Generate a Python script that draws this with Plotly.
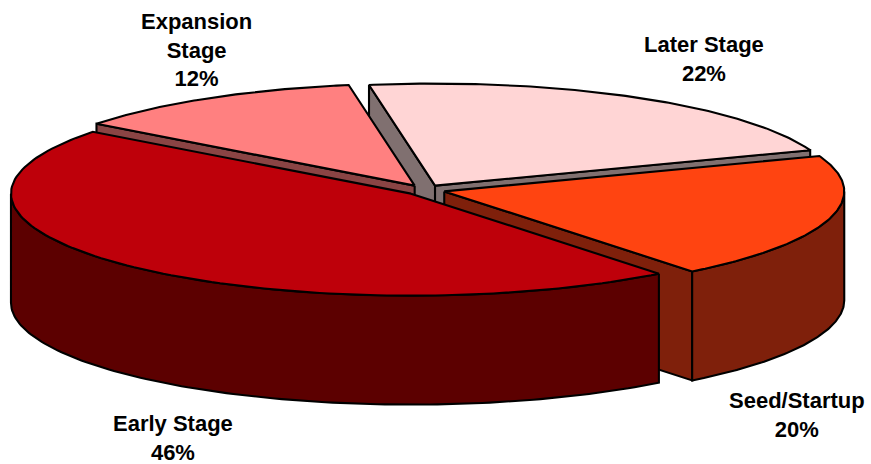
import numpy as np
import plotly.graph_objects as go

# ---- data ----
labels = ["Later Stage", "Seed/Startup", "Early Stage", "Expansion Stage"]
values = [22, 20, 46, 12]
top_colors = ["#FFD5D5", "#FF4411", "#BE000A", "#FF8080"]
side_colors = ["#807070", "#7F200B", "#5C0000", "#8A4444"]
label_text = ["Later Stage<br>22%", "Seed/Startup<br>20%", "Early Stage<br>46%", "Expansion<br>Stage<br>12%"]
label_pos = [(704, 59), (797, 415), (173, 438), (196, 50)]

# ---- geometry (style) ----
W, H = 871, 464
CX, CY = 425.0, 190.0
RX, RY = 400.0, 102.0
DEPTH = 109.0
EXPLODE = 0.05
START = 99.5  # degrees, slices go clockwise

total = float(sum(values))
spans = []
a = START
for v in values:
    a2 = a - v / total * 360.0
    spans.append((a, a2))
    a = a2

def centre(i):
    s, e = spans[i]
    m = np.radians((s + e) / 2)
    return CX + EXPLODE * RX * np.cos(m), CY - EXPLODE * RY * np.sin(m)

def pt(c, ang, dy=0.0):
    r = np.radians(ang)
    return c[0] + RX * np.cos(r), c[1] - RY * np.sin(r) + dy

def arc(c, a1, a2, dy=0.0, n=120):
    ts = np.linspace(a1, a2, n)
    xs, ys = zip(*[pt(c, t, dy) for t in ts])
    return list(xs), list(ys)

fig = go.Figure()

def poly(xs, ys, color):
    fig.add_trace(go.Scatter(x=xs + [xs[0]], y=ys + [ys[0]], mode="lines", fill="toself",
                             fillcolor=color, line=dict(color="black", width=2.1),
                             hoverinfo="skip", showlegend=False))

def top_face(i):
    c = centre(i)
    s, e = spans[i]
    xs, ys = arc(c, s, e)
    poly([c[0]] + xs, [c[1]] + ys, top_colors[i])

def cut_face(i, ang):
    c = centre(i)
    ex, ey = pt(c, ang)
    poly([c[0], ex, ex, c[0]], [c[1], ey, ey + DEPTH, c[1] + DEPTH], side_colors[i])

def outer_side(i, a1, a2):
    c = centre(i)
    xt, yt = arc(c, a1, a2)
    xb, yb = arc(c, a1, a2, DEPTH)
    poly(xt + xb[::-1], yt + yb[::-1], side_colors[i])

# painter's order, back to front
L, S, E, X = 0, 1, 2, 3
cut_face(L, spans[L][0])
cut_face(L, spans[L][1])
top_face(L)
cut_face(X, spans[X][0])
top_face(X)
cut_face(S, spans[S][1])
outer_side(S, spans[S][1], 0.0)
top_face(S)
outer_side(E, spans[E][0], -180.0)
top_face(E)

for txt, (x, y) in zip(label_text, label_pos):
    fig.add_annotation(x=x, y=y, text=txt, showarrow=False, xanchor="center", yanchor="middle",
                       font=dict(family="Arial, Liberation Sans, sans-serif", size=22,
                                 color="black", weight="bold"))

fig.update_layout(
    width=W, height=H, margin=dict(l=0, r=0, t=0, b=0),
    paper_bgcolor="white", plot_bgcolor="white",
    xaxis=dict(range=[0, W], visible=False, fixedrange=True),
    yaxis=dict(range=[H, 0], visible=False, fixedrange=True),
)
fig.write_html("out.html")
